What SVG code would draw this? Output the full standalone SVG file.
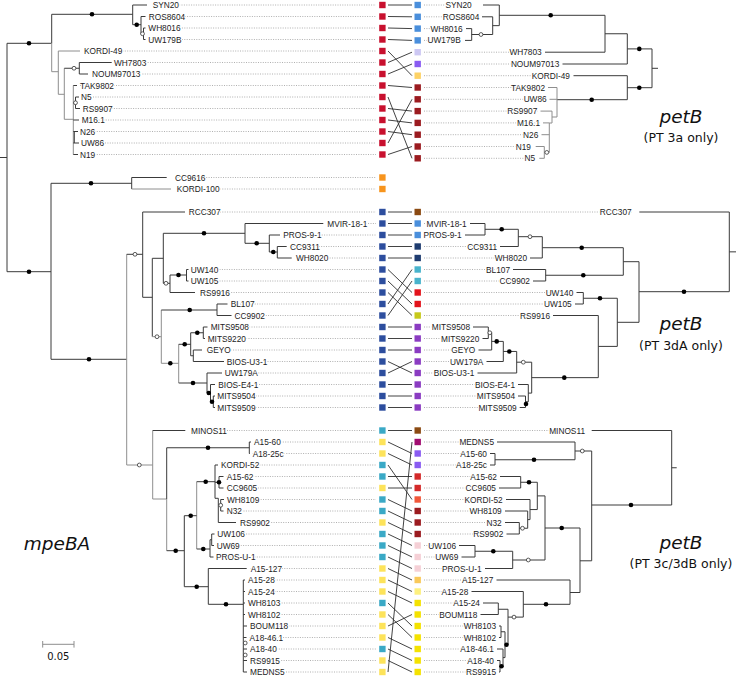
<svg xmlns="http://www.w3.org/2000/svg" width="736" height="679" viewBox="0 0 736 679">
<style>
.t{font-family:"Liberation Sans",Arial,sans-serif;font-size:8.3px;fill:#222;paint-order:stroke;stroke:#fff;stroke-width:2.4px;stroke-linejoin:round}
.r{text-anchor:end}
.br{fill:none;stroke:#3a3a3a;stroke-width:1}
.bg{fill:none;stroke:#8e8e8e;stroke-width:1}
.dl{stroke:#9c9c9c;stroke-width:0.8;stroke-dasharray:1 1.4}
.cn{stroke:#2e2e2e;stroke-width:0.9;fill:none}
.fd{fill:#000}
.od{fill:#fff;stroke:#333;stroke-width:0.8}
.big{font-family:"DejaVu Sans",Verdana,sans-serif;font-style:italic;font-size:18.5px;fill:#111;text-anchor:middle}
.sub{font-family:"DejaVu Sans",Verdana,sans-serif;font-size:12.5px;fill:#111;text-anchor:middle}
.c1{fill:#c8102e}.c2{fill:#f7941d}.c3{fill:#2d4e9e}.c4{fill:#3aa9c6}.c5{fill:#fde35a}
.c6{fill:#4a8fdc}.c7{fill:#cdc8f3}.c8{fill:#8a5cf2}.c9{fill:#fdd265}.c10{fill:#9b1b20}
.c11{fill:#8b4a12}.c12{fill:#1f3c70}.c13{fill:#48b3cc}.c14{fill:#e3141c}.c15{fill:#c7c91b}
.c16{fill:#8b3cc2}.c17{fill:#a10d70}.c18{fill:#d42b2b}.c19{fill:#f1573a}.c20{fill:#f5d0d6}
.c21{fill:#f9c95a}.c22{fill:#fdf07e}.c23{fill:#f4e200}
</style>

<g id="tree-mpeBA">
<path class="br" d="M0,157.5H7 M7,43.3V271.7 M7,43.3H51.7 M51.7,14.3V43.3 M51.7,14.3H132.7 M132.7,5V24.7 M132.7,5H147 M132.7,24.7H141 M141,16.5V33.75 M141,16.5H145.5 M141,33.75H143.5 M143.5,28V39.5 M143.5,28H145.5 M143.5,39.5H145.5"/>
<path class="bg" d="M51.7,43.3V71.7 M51.7,71.7H58.3 M58.3,51V94.3 M58.3,51H80 M58.3,94.3H64.3 M64.3,68.25V119.3 M64.3,119.3H73.3 M73.3,85.5V154.5"/>
<path class="br" d="M64.3,68.25H79.3 M79.3,62.5V74 M79.3,62.5H111.7 M79.3,74H88 M73.3,85.5H77 M73.3,102.75H75.5 M75.5,97V108.5 M75.5,97H79 M75.5,108.5H80 M73.3,120H79 M73.3,131.5H78 M73.3,143H79 M73.3,154.5H78 M74.3,131.5V143"/>
<path class="br" d="M7,271.7H51 M51,183.3V359.3 M51,183.3H131.7 M131.7,177.5V189 M131.7,177.5H166.7 M51,359.3H126.7"/>
<path class="bg" d="M131.7,189H171 M126.7,254.3V465"/>
<path class="br" d="M126.7,254.3H142.7 M142.7,212V297.3 M142.7,212H185 M142.7,297.3H152.3 M152.3,258.3V336.7 M152.3,258.3H163.3 M163.3,233.3V283.3 M163.3,233.3H245 M245,223.5V243.3 M245,223.5H323.3 M245,243.3H269.3 M269.3,235V252 M269.3,235H280 M269.3,252H277.3 M277.3,246.5V258 M277.3,246.5H286.7 M277.3,258H291.7 M163.3,283.3H170 M170,275V292.5 M170,275H186.5 M186.5,269.5V281 M186.5,269.5H188.5 M186.5,281H188.5 M170,292.5H195"/>
<path class="bg" d="M152.3,336.7H161.3 M161.3,310V363.3 M161.3,363.3H178.7 M178.7,344.3V383"/>
<path class="br" d="M161.3,310H217 M217,304V315.5 M217,304H227.5 M217,315.5H231.5 M178.7,344.3H190.7 M190.7,332.75V355.75 M190.7,332.75H203.3 M203.3,327V338.5 M203.3,327H207.5 M203.3,338.5H205 M190.7,355.75H193.3 M193.3,350V361.5 M193.3,350H202 M193.3,361.5H224 M178.7,383H207 M207,373V393 M207,373H222 M207,393H210.5 M210.5,384.5V401.75 M210.5,384.5H215 M210.5,401.75H213.3 M213.3,396V407.5 M213.3,396H215 M213.3,407.5H215"/>
<path class="bg" d="M126.7,465H152.7 M152.7,430.5V499 M152.7,499H166.7 M166.7,499V550.7 M196.7,481.7V549"/>
<path class="br" d="M152.7,430.5H185.3 M166.7,447.75V499 M166.7,447.75H249.3 M249.3,442V453.5 M249.3,442H251 M249.3,453.5H250 M166.7,550.7H184.3 M184.3,515.7V586.7 M184.3,515.7H196.7 M196.7,481.7H215 M215,465V498.3 M215,465H218 M215,482.25H219 M219,476.5V488 M219,476.5H223.5 M219,488H223.5 M215,498.3H218.3 M218.3,498.3V522.5 M218.3,505.25H220.7 M220.7,499.5V511 M220.7,499.5H224 M220.7,511H223.5 M218.3,522.5H236 M196.7,549H210 M210,539.75V557 M210,539.75H211.7 M211.7,534V545.5 M211.7,534H214.5 M211.7,545.5H214 M210,557H213.5 M184.3,586.7H208.3 M208.3,568.5V604.3 M208.3,568.5H246.7 M208.3,604.3H243.3 M243.3,580V672 M243.3,580H245 M243.3,591.5H245 M243.3,603H245 M243.3,614.5H245 M243.3,626H247 M243.3,637.5H246.5 M243.3,649H247 M243.3,660.5H247 M243.3,672H247"/>
<g class="fd">
<circle cx="29" cy="43.3" r="2.3"/><circle cx="92" cy="14.3" r="2.3"/><circle cx="136.7" cy="24.7" r="2.3"/>
<circle cx="29" cy="271.7" r="2.3"/><circle cx="91" cy="183.3" r="2.3"/><circle cx="89" cy="359.3" r="2.3"/>
<circle cx="204" cy="233.3" r="2.3"/><circle cx="256.7" cy="243.3" r="2.3"/><circle cx="273.3" cy="252" r="2.3"/>
<circle cx="178.5" cy="275" r="2.3"/><circle cx="189.7" cy="310" r="2.3"/><circle cx="170.3" cy="363.3" r="2.3"/>
<circle cx="184.7" cy="344.3" r="2.3"/><circle cx="197.3" cy="332.75" r="2.3"/><circle cx="193" cy="383" r="2.3"/>
<circle cx="208.8" cy="393" r="2.3"/><circle cx="212" cy="401.75" r="2.3"/><circle cx="208" cy="447.75" r="2.3"/>
<circle cx="175.7" cy="550.7" r="2.3"/><circle cx="190.7" cy="515.7" r="2.3"/><circle cx="205.7" cy="481.7" r="2.3"/>
<circle cx="219" cy="482.25" r="2.3"/><circle cx="203.3" cy="549" r="2.3"/><circle cx="196.7" cy="586.7" r="2.3"/>
<circle cx="226" cy="604.3" r="2.3"/>
</g>
<g class="od">
<circle cx="74" cy="68.25" r="1.9"/><circle cx="75.5" cy="102.75" r="1.9"/><circle cx="142.5" cy="33.75" r="1.9"/>
<circle cx="135" cy="254.3" r="1.9"/><circle cx="166" cy="283.3" r="1.9"/><circle cx="157" cy="336.7" r="1.9"/>
<circle cx="139.3" cy="465" r="1.9"/><circle cx="220.7" cy="505.25" r="1.9"/><circle cx="245.2" cy="643" r="1.9"/>
<circle cx="245.2" cy="655" r="1.9"/>
</g>
</g>

<g id="tree-petB">
<path class="br" d="M483,5H499.3 M482,16.8H492.7 M466,28.6H471.7 M465,40.4H471.7 M471.7,28.6V40.4 M471.7,34.5H492.7 M492.7,16.8V34.5 M492.7,25.65H499.3 M499.3,5V25.65 M499.3,15.3H605 M605,15.3V52.2 M545,52.2H605 M605,33.75H627.3 M627.3,33.75V64 M562.5,64H627.3 M627.3,48.9H652 M652,48.9V87.7 M652,68.3H658 M627.3,87.7H652 M627.3,75.7V99.7 M573.5,75.7H627.3 M557,99.7H627.3"/>
<path class="bg" d="M557,87.5V117 M548,87.5H557 M549.5,99.3H557 M552,117H557 M552,111.1V123 M540.5,111.1H552 M549.3,123H552 M549.3,122.9V152.4 M543,122.9H549.3 M541.5,134.7H549.3 M544.3,152.4H549.3 M544.3,146.5V158.3 M535.7,146.5H544.3 M539.3,158.3H544.3"/>
<path class="br" d="M639.3,212H729.3 M729.3,212V291.7 M729.3,251.85H736 M639,291.7H729.3 M639,261.7V322.3 M623.3,261.7H639 M623.3,247.7V275.25 M542.3,247.7H623.3 M542.3,236.7V258 M530,258H542.3 M518.3,236.7H542.3 M518.3,229.3V246.5 M500,246.5H518.3 M485,229.3H518.3 M485,223.5V235 M470,223.5H485 M465,235H485 M545.7,275.25H623.3 M545.7,269.5V281 M513,269.5H545.7 M533,281H545.7 M583.3,298.25H617.3 M583.3,292.5V304 M576.5,292.5H583.3 M575,304H583.3 M617.3,298.25V346.4 M617.3,322.3H639 M598.3,346.4H617.3 M598.3,315.5V377.65 M553,315.5H598.3 M531.7,377.65H598.3 M531.7,362.2V393.1 M516.7,362.2H531.7 M516.7,351.45V373 M477.5,373H516.7 M503.3,351.45H516.7 M503.3,341.4V361.5 M486.5,361.5H503.3 M491.7,341.4H503.3 M491.7,332.75V350 M478.5,350H491.7 M488.3,332.75H491.7 M488.3,327V338.5 M473,327H488.3 M482.5,338.5H488.3 M528.3,393.1H531.7 M528.3,384.5V401.75 M518,384.5H528.3 M525.5,401.75H528.3 M525.5,396V407.5 M518,396H525.5 M519.7,407.5H525.5"/>
<path class="br" d="M591.7,430.5H671.7 M671.7,430.5V505 M671.7,467.75H676.7 M591.7,505H671.7 M591.7,451V560.8 M575,451H591.7 M575,442V459.75 M497,442H575 M495,459.75H575 M495,453.5V465 M490,453.5H495 M490,465H495 M520.7,476.5V488 M500,476.5H520.7 M499,488H520.7 M520.7,482.25H537.3 M537.3,482.25V509.55 M530,509.55H537.3 M530,499.5V519.6 M506,499.5H530 M527.7,519.6H530 M527.7,511V528.25 M505,511H527.7 M519.3,528.25H527.7 M519.3,522.5V534 M505,522.5H519.3 M506.5,534H519.3 M537.3,495.9H545 M545,495.9V560 M545,528H580 M512.7,560H545 M512.7,551.25V568.5 M485,568.5H512.7 M475,551.25H512.7 M475,545.5V557 M459,545.5H475 M461.5,557H475 M580,528V592.5 M580,560.8H591.7 M570,592.5H580 M570,580V604.3 M496.5,580H570 M523.3,604.3H570 M523.3,591.5V617.1 M471.5,591.5H523.3 M508,617.1H523.3 M508,609.25V644.7 M498.3,609.25H508 M498.3,603V614.5 M483,603H498.3 M480.5,614.5H498.3 M505,644.7H508 M505,631.75V657.6 M501,631.75H505 M501,626V637.5 M499,626H501 M499,637.5H501 M503,657.6H505 M503,649V666.25 M497,649H503 M500,666.25H503 M500,660.5V672 M497,660.5H500 M499,672H500"/>
<g class="fd">
<circle cx="550.7" cy="15.3" r="2.3"/><circle cx="639.3" cy="48.9" r="2.3"/><circle cx="639.3" cy="87.7" r="2.3"/><circle cx="591.7" cy="99.7" r="2.3"/>
<circle cx="684" cy="291.7" r="2.3"/><circle cx="581.7" cy="247.7" r="2.3"/><circle cx="501.7" cy="229.3" r="2.3"/><circle cx="583.3" cy="275.25" r="2.3"/>
<circle cx="600" cy="298.25" r="2.3"/><circle cx="564.3" cy="377.65" r="2.3"/><circle cx="496.7" cy="341.4" r="2.3"/><circle cx="509.3" cy="351.45" r="2.3"/>
<circle cx="526" cy="404" r="2.3"/>
<circle cx="631" cy="505" r="2.3"/><circle cx="534" cy="459.75" r="2.3"/><circle cx="529" cy="482.25" r="2.3"/><circle cx="561.7" cy="528" r="2.3"/>
<circle cx="493.3" cy="551.25" r="2.3"/><circle cx="546" cy="604.3" r="2.3"/><circle cx="506.5" cy="644.7" r="2.3"/><circle cx="501.5" cy="666.25" r="2.3"/>
</g>
<g class="od">
<circle cx="481" cy="34.5" r="1.9"/><circle cx="546.8" cy="152.4" r="1.9"/>
<circle cx="530" cy="236.7" r="1.9"/><circle cx="523.3" cy="362.2" r="1.9"/><circle cx="489.8" cy="332.75" r="1.9"/>
<circle cx="582.3" cy="451" r="1.9"/><circle cx="522.5" cy="528.25" r="1.9"/><circle cx="528.3" cy="560" r="1.9"/><circle cx="514" cy="617.1" r="1.9"/>
</g>
</g>

<g id="connectors" class="cn">
<path d="M388,5L412,5 M388,16.5L412,16.8 M388,28L412,28.6 M388,39.5L412,40.4 M388,51L412,75.7 M388,62.5L412,52.2 M388,74L412,64 M388,85.5L412,87.5 M388,97L412,158.3 M388,108.5L412,111.1 M388,120L412,122.9 M388,131.5L412,134.7 M388,143L412,99.3 M388,154.5L412,146.5"/>
<path d="M388,212H412 M388,223.5H412 M388,235H412 M388,246.5H412 M388,258H412 M388,269.5L412,292.5 M388,281L412,304 M388,292.5L412,315.5 M388,304L412,269.5 M388,315.5L412,281 M388,327H412 M388,338.5H412 M388,350H412 M388,361.5L412,373 M388,373L412,361.5 M388,384.5H412 M388,396H412 M388,407.5H412"/>
<path d="M388,430.5H412 M388,442L412,453.5 M388,453.5L412,465 M388,465L412,499.5 M388,476.5H412 M388,488H412 M388,499.5L412,511 M388,511L412,522.5 M388,522.5L412,534 M388,534L412,545.5 M388,545.5L412,557 M388,557L412,568.5 M388,568.5L412,580 M388,580L412,591.5 M388,591.5L412,603 M388,603L412,626 M388,614.5L412,637.5 M388,626L412,614.5 M388,637.5L412,649 M388,649L412,660.5 M388,660.5L412,672 M388,672L412,442"/>
</g>

<g id="left-leaves">
<g id="L-SYN20"><line class="dl" x1="152.7" y1="5" x2="376" y2="5"/><text class="t" x="152.7" y="8">SYN20</text><rect class="c1" x="379.2" y="1.8" width="6.4" height="6.4"/></g>
<g id="L-ROS8604"><line class="dl" x1="148.7" y1="16.5" x2="376" y2="16.5"/><text class="t" x="148.7" y="19.5">ROS8604</text><rect class="c1" x="379.2" y="13.3" width="6.4" height="6.4"/></g>
<g id="L-WH8016"><line class="dl" x1="148.3" y1="28" x2="376" y2="28"/><text class="t" x="148.3" y="31">WH8016</text><rect class="c1" x="379.2" y="24.8" width="6.4" height="6.4"/></g>
<g id="L-UW179B"><line class="dl" x1="148.3" y1="39.5" x2="376" y2="39.5"/><text class="t" x="148.3" y="42.5">UW179B</text><rect class="c1" x="379.2" y="36.3" width="6.4" height="6.4"/></g>
<g id="L-KORDI-49"><line class="dl" x1="84" y1="51" x2="376" y2="51"/><text class="t" x="84" y="54">KORDI-49</text><rect class="c1" x="379.2" y="47.8" width="6.4" height="6.4"/></g>
<g id="L-WH7803"><line class="dl" x1="114" y1="62.5" x2="376" y2="62.5"/><text class="t" x="114" y="65.5">WH7803</text><rect class="c1" x="379.2" y="59.3" width="6.4" height="6.4"/></g>
<g id="L-NOUM97013"><line class="dl" x1="92" y1="74" x2="376" y2="74"/><text class="t" x="92" y="77">NOUM97013</text><rect class="c1" x="379.2" y="70.8" width="6.4" height="6.4"/></g>
<g id="L-TAK9802"><line class="dl" x1="80" y1="85.5" x2="376" y2="85.5"/><text class="t" x="80" y="88.5">TAK9802</text><rect class="c1" x="379.2" y="82.3" width="6.4" height="6.4"/></g>
<g id="L-N5"><line class="dl" x1="81" y1="97" x2="376" y2="97"/><text class="t" x="81" y="100">N5</text><rect class="c1" x="379.2" y="93.8" width="6.4" height="6.4"/></g>
<g id="L-RS9907"><line class="dl" x1="82.7" y1="108.5" x2="376" y2="108.5"/><text class="t" x="82.7" y="111.5">RS9907</text><rect class="c1" x="379.2" y="105.3" width="6.4" height="6.4"/></g>
<g id="L-M16.1"><line class="dl" x1="81.7" y1="120" x2="376" y2="120"/><text class="t" x="81.7" y="123">M16.1</text><rect class="c1" x="379.2" y="116.8" width="6.4" height="6.4"/></g>
<g id="L-N26"><line class="dl" x1="80" y1="131.5" x2="376" y2="131.5"/><text class="t" x="80" y="134.5">N26</text><rect class="c1" x="379.2" y="128.3" width="6.4" height="6.4"/></g>
<g id="L-UW86"><line class="dl" x1="81" y1="143" x2="376" y2="143"/><text class="t" x="81" y="146">UW86</text><rect class="c1" x="379.2" y="139.8" width="6.4" height="6.4"/></g>
<g id="L-N19"><line class="dl" x1="80" y1="154.5" x2="376" y2="154.5"/><text class="t" x="80" y="157.5">N19</text><rect class="c1" x="379.2" y="151.3" width="6.4" height="6.4"/></g>
<g id="L-CC9616"><line class="dl" x1="175" y1="177.5" x2="376" y2="177.5"/><text class="t" x="175" y="180.5">CC9616</text><rect class="c2" x="379.2" y="174.3" width="6.4" height="6.4"/></g>
<g id="L-KORDI-100"><line class="dl" x1="176.7" y1="189" x2="376" y2="189"/><text class="t" x="176.7" y="192">KORDI-100</text><rect class="c2" x="379.2" y="185.8" width="6.4" height="6.4"/></g>
<g id="L-RCC307"><line class="dl" x1="188.7" y1="212" x2="376" y2="212"/><text class="t" x="188.7" y="215">RCC307</text><rect class="c3" x="379.2" y="208.8" width="6.4" height="6.4"/></g>
<g id="L-MVIR-18-1"><line class="dl" x1="327.3" y1="223.5" x2="376" y2="223.5"/><text class="t" x="327.3" y="226.5">MVIR-18-1</text><rect class="c3" x="379.2" y="220.3" width="6.4" height="6.4"/></g>
<g id="L-PROS-9-1"><line class="dl" x1="283.3" y1="235" x2="376" y2="235"/><text class="t" x="283.3" y="238">PROS-9-1</text><rect class="c3" x="379.2" y="231.8" width="6.4" height="6.4"/></g>
<g id="L-CC9311"><line class="dl" x1="290" y1="246.5" x2="376" y2="246.5"/><text class="t" x="290" y="249.5">CC9311</text><rect class="c3" x="379.2" y="243.3" width="6.4" height="6.4"/></g>
<g id="L-WH8020"><line class="dl" x1="296" y1="258" x2="376" y2="258"/><text class="t" x="296" y="261">WH8020</text><rect class="c3" x="379.2" y="254.8" width="6.4" height="6.4"/></g>
<g id="L-UW140"><line class="dl" x1="190.7" y1="269.5" x2="376" y2="269.5"/><text class="t" x="190.7" y="272.5">UW140</text><rect class="c3" x="379.2" y="266.3" width="6.4" height="6.4"/></g>
<g id="L-UW105"><line class="dl" x1="190.7" y1="281" x2="376" y2="281"/><text class="t" x="190.7" y="284">UW105</text><rect class="c3" x="379.2" y="277.8" width="6.4" height="6.4"/></g>
<g id="L-RS9916"><line class="dl" x1="200" y1="292.5" x2="376" y2="292.5"/><text class="t" x="200" y="295.5">RS9916</text><rect class="c3" x="379.2" y="289.3" width="6.4" height="6.4"/></g>
<g id="L-BL107"><line class="dl" x1="230.7" y1="304" x2="376" y2="304"/><text class="t" x="230.7" y="307">BL107</text><rect class="c3" x="379.2" y="300.8" width="6.4" height="6.4"/></g>
<g id="L-CC9902"><line class="dl" x1="234.5" y1="315.5" x2="376" y2="315.5"/><text class="t" x="234.5" y="318.5">CC9902</text><rect class="c3" x="379.2" y="312.3" width="6.4" height="6.4"/></g>
<g id="L-MITS9508"><line class="dl" x1="210.7" y1="327" x2="376" y2="327"/><text class="t" x="210.7" y="330">MITS9508</text><rect class="c3" x="379.2" y="323.8" width="6.4" height="6.4"/></g>
<g id="L-MITS9220"><line class="dl" x1="207.7" y1="338.5" x2="376" y2="338.5"/><text class="t" x="207.7" y="341.5">MITS9220</text><rect class="c3" x="379.2" y="335.3" width="6.4" height="6.4"/></g>
<g id="L-GEYO"><line class="dl" x1="206.7" y1="350" x2="376" y2="350"/><text class="t" x="206.7" y="353">GEYO</text><rect class="c3" x="379.2" y="346.8" width="6.4" height="6.4"/></g>
<g id="L-BIOS-U3-1"><line class="dl" x1="226.7" y1="361.5" x2="376" y2="361.5"/><text class="t" x="226.7" y="364.5">BIOS-U3-1</text><rect class="c3" x="379.2" y="358.3" width="6.4" height="6.4"/></g>
<g id="L-UW179A"><line class="dl" x1="224.7" y1="373" x2="376" y2="373"/><text class="t" x="224.7" y="376">UW179A</text><rect class="c3" x="379.2" y="369.8" width="6.4" height="6.4"/></g>
<g id="L-BIOS-E4-1"><line class="dl" x1="218.3" y1="384.5" x2="376" y2="384.5"/><text class="t" x="218.3" y="387.5">BIOS-E4-1</text><rect class="c3" x="379.2" y="381.3" width="6.4" height="6.4"/></g>
<g id="L-MITS9504"><line class="dl" x1="217.3" y1="396" x2="376" y2="396"/><text class="t" x="217.3" y="399">MITS9504</text><rect class="c3" x="379.2" y="392.8" width="6.4" height="6.4"/></g>
<g id="L-MITS9509"><line class="dl" x1="217.3" y1="407.5" x2="376" y2="407.5"/><text class="t" x="217.3" y="410.5">MITS9509</text><rect class="c3" x="379.2" y="404.3" width="6.4" height="6.4"/></g>
<g id="L-MINOS11"><line class="dl" x1="191" y1="430.5" x2="376" y2="430.5"/><text class="t" x="191" y="433.5">MINOS11</text><rect class="c4" x="379.2" y="427.3" width="6.4" height="6.4"/></g>
<g id="L-A15-60"><line class="dl" x1="254" y1="442" x2="376" y2="442"/><text class="t" x="254" y="445">A15-60</text><rect class="c5" x="379.2" y="438.8" width="6.4" height="6.4"/></g>
<g id="L-A18-25c"><line class="dl" x1="252.7" y1="453.5" x2="376" y2="453.5"/><text class="t" x="252.7" y="456.5">A18-25c</text><rect class="c5" x="379.2" y="450.3" width="6.4" height="6.4"/></g>
<g id="L-KORDI-52"><line class="dl" x1="221" y1="465" x2="376" y2="465"/><text class="t" x="221" y="468">KORDI-52</text><rect class="c4" x="379.2" y="461.8" width="6.4" height="6.4"/></g>
<g id="L-A15-62"><line class="dl" x1="226.7" y1="476.5" x2="376" y2="476.5"/><text class="t" x="226.7" y="479.5">A15-62</text><rect class="c4" x="379.2" y="473.3" width="6.4" height="6.4"/></g>
<g id="L-CC9605"><line class="dl" x1="226.7" y1="488" x2="376" y2="488"/><text class="t" x="226.7" y="491">CC9605</text><rect class="c5" x="379.2" y="484.8" width="6.4" height="6.4"/></g>
<g id="L-WH8109"><line class="dl" x1="227" y1="499.5" x2="376" y2="499.5"/><text class="t" x="227" y="502.5">WH8109</text><rect class="c4" x="379.2" y="496.3" width="6.4" height="6.4"/></g>
<g id="L-N32"><line class="dl" x1="226.7" y1="511" x2="376" y2="511"/><text class="t" x="226.7" y="514">N32</text><rect class="c4" x="379.2" y="507.8" width="6.4" height="6.4"/></g>
<g id="L-RS9902"><line class="dl" x1="240" y1="522.5" x2="376" y2="522.5"/><text class="t" x="240" y="525.5">RS9902</text><rect class="c5" x="379.2" y="519.3" width="6.4" height="6.4"/></g>
<g id="L-UW106"><line class="dl" x1="217.3" y1="534" x2="376" y2="534"/><text class="t" x="217.3" y="537">UW106</text><rect class="c4" x="379.2" y="530.8" width="6.4" height="6.4"/></g>
<g id="L-UW69"><line class="dl" x1="216.7" y1="545.5" x2="376" y2="545.5"/><text class="t" x="216.7" y="548.5">UW69</text><rect class="c4" x="379.2" y="542.3" width="6.4" height="6.4"/></g>
<g id="L-PROS-U-1"><line class="dl" x1="216" y1="557" x2="376" y2="557"/><text class="t" x="216" y="560">PROS-U-1</text><rect class="c4" x="379.2" y="553.8" width="6.4" height="6.4"/></g>
<g id="L-A15-127"><line class="dl" x1="250.7" y1="568.5" x2="376" y2="568.5"/><text class="t" x="250.7" y="571.5">A15-127</text><rect class="c5" x="379.2" y="565.3" width="6.4" height="6.4"/></g>
<g id="L-A15-28"><line class="dl" x1="248" y1="580" x2="376" y2="580"/><text class="t" x="248" y="583">A15-28</text><rect class="c5" x="379.2" y="576.8" width="6.4" height="6.4"/></g>
<g id="L-A15-24"><line class="dl" x1="248" y1="591.5" x2="376" y2="591.5"/><text class="t" x="248" y="594.5">A15-24</text><rect class="c5" x="379.2" y="588.3" width="6.4" height="6.4"/></g>
<g id="L-WH8103"><line class="dl" x1="248" y1="603" x2="376" y2="603"/><text class="t" x="248" y="606">WH8103</text><rect class="c4" x="379.2" y="599.8" width="6.4" height="6.4"/></g>
<g id="L-WH8102"><line class="dl" x1="248" y1="614.5" x2="376" y2="614.5"/><text class="t" x="248" y="617.5">WH8102</text><rect class="c5" x="379.2" y="611.3" width="6.4" height="6.4"/></g>
<g id="L-BOUM118"><line class="dl" x1="250" y1="626" x2="376" y2="626"/><text class="t" x="250" y="629">BOUM118</text><rect class="c5" x="379.2" y="622.8" width="6.4" height="6.4"/></g>
<g id="L-A18-46.1"><line class="dl" x1="249.5" y1="637.5" x2="376" y2="637.5"/><text class="t" x="249.5" y="640.5">A18-46.1</text><rect class="c5" x="379.2" y="634.3" width="6.4" height="6.4"/></g>
<g id="L-A18-40"><line class="dl" x1="250" y1="649" x2="376" y2="649"/><text class="t" x="250" y="652">A18-40</text><rect class="c4" x="379.2" y="645.8" width="6.4" height="6.4"/></g>
<g id="L-RS9915"><line class="dl" x1="250" y1="660.5" x2="376" y2="660.5"/><text class="t" x="250" y="663.5">RS9915</text><rect class="c5" x="379.2" y="657.3" width="6.4" height="6.4"/></g>
<g id="L-MEDNS5"><line class="dl" x1="250" y1="672" x2="376" y2="672"/><text class="t" x="250" y="675">MEDNS5</text><rect class="c5" x="379.2" y="668.8" width="6.4" height="6.4"/></g>
</g>

<g id="right-leaves">
<g id="R-SYN20"><line class="dl" x1="424" y1="5" x2="471.7" y2="5"/><text class="t r" x="471.7" y="8">SYN20</text><rect class="c6" x="414.5" y="1.8" width="6.4" height="6.4"/></g>
<g id="R-ROS8604"><line class="dl" x1="424" y1="16.8" x2="479.3" y2="16.8"/><text class="t r" x="479.3" y="19.8">ROS8604</text><rect class="c6" x="414.5" y="13.6" width="6.4" height="6.4"/></g>
<g id="R-WH8016"><line class="dl" x1="424" y1="28.6" x2="462.7" y2="28.6"/><text class="t r" x="462.7" y="31.6">WH8016</text><rect class="c6" x="414.5" y="25.4" width="6.4" height="6.4"/></g>
<g id="R-UW179B"><line class="dl" x1="424" y1="40.4" x2="460.7" y2="40.4"/><text class="t r" x="460.7" y="43.4">UW179B</text><rect class="c6" x="414.5" y="37.2" width="6.4" height="6.4"/></g>
<g id="R-WH7803"><line class="dl" x1="424" y1="52.2" x2="541.7" y2="52.2"/><text class="t r" x="541.7" y="55.2">WH7803</text><rect class="c7" x="414.5" y="49" width="6.4" height="6.4"/></g>
<g id="R-NOUM97013"><line class="dl" x1="424" y1="64" x2="559.3" y2="64"/><text class="t r" x="559.3" y="67">NOUM97013</text><rect class="c8" x="414.5" y="60.8" width="6.4" height="6.4"/></g>
<g id="R-KORDI-49"><line class="dl" x1="424" y1="75.7" x2="570" y2="75.7"/><text class="t r" x="570" y="78.7">KORDI-49</text><rect class="c9" x="414.5" y="72.5" width="6.4" height="6.4"/></g>
<g id="R-TAK9802"><line class="dl" x1="424" y1="87.5" x2="545" y2="87.5"/><text class="t r" x="545" y="90.5">TAK9802</text><rect class="c10" x="414.5" y="84.3" width="6.4" height="6.4"/></g>
<g id="R-UW86"><line class="dl" x1="424" y1="99.3" x2="546.7" y2="99.3"/><text class="t r" x="546.7" y="102.3">UW86</text><rect class="c10" x="414.5" y="96.1" width="6.4" height="6.4"/></g>
<g id="R-RS9907"><line class="dl" x1="424" y1="111.1" x2="537.3" y2="111.1"/><text class="t r" x="537.3" y="114.1">RS9907</text><rect class="c10" x="414.5" y="107.9" width="6.4" height="6.4"/></g>
<g id="R-M16.1"><line class="dl" x1="424" y1="122.9" x2="540" y2="122.9"/><text class="t r" x="540" y="125.9">M16.1</text><rect class="c10" x="414.5" y="119.7" width="6.4" height="6.4"/></g>
<g id="R-N26"><line class="dl" x1="424" y1="134.7" x2="538.3" y2="134.7"/><text class="t r" x="538.3" y="137.7">N26</text><rect class="c10" x="414.5" y="131.5" width="6.4" height="6.4"/></g>
<g id="R-N19"><line class="dl" x1="424" y1="146.5" x2="531" y2="146.5"/><text class="t r" x="531" y="149.5">N19</text><rect class="c10" x="414.5" y="143.3" width="6.4" height="6.4"/></g>
<g id="R-N5"><line class="dl" x1="424" y1="158.3" x2="535" y2="158.3"/><text class="t r" x="535" y="161.3">N5</text><rect class="c10" x="414.5" y="155.1" width="6.4" height="6.4"/></g>
<g id="R-RCC307"><line class="dl" x1="424" y1="212" x2="631.7" y2="212"/><text class="t r" x="631.7" y="215">RCC307</text><rect class="c11" x="414.5" y="208.8" width="6.4" height="6.4"/></g>
<g id="R-MVIR-18-1"><line class="dl" x1="424" y1="223.5" x2="466.7" y2="223.5"/><text class="t r" x="466.7" y="226.5">MVIR-18-1</text><rect class="c6" x="414.5" y="220.3" width="6.4" height="6.4"/></g>
<g id="R-PROS-9-1"><line class="dl" x1="424" y1="235" x2="461.7" y2="235"/><text class="t r" x="461.7" y="238">PROS-9-1</text><rect class="c6" x="414.5" y="231.8" width="6.4" height="6.4"/></g>
<g id="R-CC9311"><line class="dl" x1="424" y1="246.5" x2="497" y2="246.5"/><text class="t r" x="497" y="249.5">CC9311</text><rect class="c12" x="414.5" y="243.3" width="6.4" height="6.4"/></g>
<g id="R-WH8020"><line class="dl" x1="424" y1="258" x2="527" y2="258"/><text class="t r" x="527" y="261">WH8020</text><rect class="c12" x="414.5" y="254.8" width="6.4" height="6.4"/></g>
<g id="R-BL107"><line class="dl" x1="424" y1="269.5" x2="510" y2="269.5"/><text class="t r" x="510" y="272.5">BL107</text><rect class="c13" x="414.5" y="266.3" width="6.4" height="6.4"/></g>
<g id="R-CC9902"><line class="dl" x1="424" y1="281" x2="530" y2="281"/><text class="t r" x="530" y="284">CC9902</text><rect class="c13" x="414.5" y="277.8" width="6.4" height="6.4"/></g>
<g id="R-UW140"><line class="dl" x1="424" y1="292.5" x2="573.3" y2="292.5"/><text class="t r" x="573.3" y="295.5">UW140</text><rect class="c14" x="414.5" y="289.3" width="6.4" height="6.4"/></g>
<g id="R-UW105"><line class="dl" x1="424" y1="304" x2="571.7" y2="304"/><text class="t r" x="571.7" y="307">UW105</text><rect class="c14" x="414.5" y="300.8" width="6.4" height="6.4"/></g>
<g id="R-RS9916"><line class="dl" x1="424" y1="315.5" x2="550" y2="315.5"/><text class="t r" x="550" y="318.5">RS9916</text><rect class="c15" x="414.5" y="312.3" width="6.4" height="6.4"/></g>
<g id="R-MITS9508"><line class="dl" x1="424" y1="327" x2="470" y2="327"/><text class="t r" x="470" y="330">MITS9508</text><rect class="c16" x="414.5" y="323.8" width="6.4" height="6.4"/></g>
<g id="R-MITS9220"><line class="dl" x1="424" y1="338.5" x2="479.3" y2="338.5"/><text class="t r" x="479.3" y="341.5">MITS9220</text><rect class="c16" x="414.5" y="335.3" width="6.4" height="6.4"/></g>
<g id="R-GEYO"><line class="dl" x1="424" y1="350" x2="475.3" y2="350"/><text class="t r" x="475.3" y="353">GEYO</text><rect class="c16" x="414.5" y="346.8" width="6.4" height="6.4"/></g>
<g id="R-UW179A"><line class="dl" x1="424" y1="361.5" x2="483.3" y2="361.5"/><text class="t r" x="483.3" y="364.5">UW179A</text><rect class="c16" x="414.5" y="358.3" width="6.4" height="6.4"/></g>
<g id="R-BIOS-U3-1"><line class="dl" x1="424" y1="373" x2="474.3" y2="373"/><text class="t r" x="474.3" y="376">BIOS-U3-1</text><rect class="c16" x="414.5" y="369.8" width="6.4" height="6.4"/></g>
<g id="R-BIOS-E4-1"><line class="dl" x1="424" y1="384.5" x2="515" y2="384.5"/><text class="t r" x="515" y="387.5">BIOS-E4-1</text><rect class="c16" x="414.5" y="381.3" width="6.4" height="6.4"/></g>
<g id="R-MITS9504"><line class="dl" x1="424" y1="396" x2="515" y2="396"/><text class="t r" x="515" y="399">MITS9504</text><rect class="c16" x="414.5" y="392.8" width="6.4" height="6.4"/></g>
<g id="R-MITS9509"><line class="dl" x1="424" y1="407.5" x2="516.7" y2="407.5"/><text class="t r" x="516.7" y="410.5">MITS9509</text><rect class="c16" x="414.5" y="404.3" width="6.4" height="6.4"/></g>
<g id="R-MINOS11"><line class="dl" x1="424" y1="430.5" x2="585" y2="430.5"/><text class="t r" x="585" y="433.5">MINOS11</text><rect class="c11" x="414.5" y="427.3" width="6.4" height="6.4"/></g>
<g id="R-MEDNS5"><line class="dl" x1="424" y1="442" x2="494" y2="442"/><text class="t r" x="494" y="445">MEDNS5</text><rect class="c17" x="414.5" y="438.8" width="6.4" height="6.4"/></g>
<g id="R-A15-60"><line class="dl" x1="424" y1="453.5" x2="487" y2="453.5"/><text class="t r" x="487" y="456.5">A15-60</text><rect class="c8" x="414.5" y="450.3" width="6.4" height="6.4"/></g>
<g id="R-A18-25c"><line class="dl" x1="424" y1="465" x2="487" y2="465"/><text class="t r" x="487" y="468">A18-25c</text><rect class="c8" x="414.5" y="461.8" width="6.4" height="6.4"/></g>
<g id="R-A15-62"><line class="dl" x1="424" y1="476.5" x2="497" y2="476.5"/><text class="t r" x="497" y="479.5">A15-62</text><rect class="c18" x="414.5" y="473.3" width="6.4" height="6.4"/></g>
<g id="R-CC9605"><line class="dl" x1="424" y1="488" x2="496" y2="488"/><text class="t r" x="496" y="491">CC9605</text><rect class="c18" x="414.5" y="484.8" width="6.4" height="6.4"/></g>
<g id="R-KORDI-52"><line class="dl" x1="424" y1="499.5" x2="502.7" y2="499.5"/><text class="t r" x="502.7" y="502.5">KORDI-52</text><rect class="c19" x="414.5" y="496.3" width="6.4" height="6.4"/></g>
<g id="R-WH8109"><line class="dl" x1="424" y1="511" x2="501.7" y2="511"/><text class="t r" x="501.7" y="514">WH8109</text><rect class="c10" x="414.5" y="507.8" width="6.4" height="6.4"/></g>
<g id="R-N32"><line class="dl" x1="424" y1="522.5" x2="501.7" y2="522.5"/><text class="t r" x="501.7" y="525.5">N32</text><rect class="c10" x="414.5" y="519.3" width="6.4" height="6.4"/></g>
<g id="R-RS9902"><line class="dl" x1="424" y1="534" x2="503.3" y2="534"/><text class="t r" x="503.3" y="537">RS9902</text><rect class="c10" x="414.5" y="530.8" width="6.4" height="6.4"/></g>
<g id="R-UW106"><line class="dl" x1="424" y1="545.5" x2="456" y2="545.5"/><text class="t r" x="456" y="548.5">UW106</text><rect class="c20" x="414.5" y="542.3" width="6.4" height="6.4"/></g>
<g id="R-UW69"><line class="dl" x1="424" y1="557" x2="458.3" y2="557"/><text class="t r" x="458.3" y="560">UW69</text><rect class="c20" x="414.5" y="553.8" width="6.4" height="6.4"/></g>
<g id="R-PROS-U-1"><line class="dl" x1="424" y1="568.5" x2="481.7" y2="568.5"/><text class="t r" x="481.7" y="571.5">PROS-U-1</text><rect class="c20" x="414.5" y="565.3" width="6.4" height="6.4"/></g>
<g id="R-A15-127"><line class="dl" x1="424" y1="580" x2="493.3" y2="580"/><text class="t r" x="493.3" y="583">A15-127</text><rect class="c21" x="414.5" y="576.8" width="6.4" height="6.4"/></g>
<g id="R-A15-28"><line class="dl" x1="424" y1="591.5" x2="468.3" y2="591.5"/><text class="t r" x="468.3" y="594.5">A15-28</text><rect class="c22" x="414.5" y="588.3" width="6.4" height="6.4"/></g>
<g id="R-A15-24"><line class="dl" x1="424" y1="603" x2="480" y2="603"/><text class="t r" x="480" y="606">A15-24</text><rect class="c23" x="414.5" y="599.8" width="6.4" height="6.4"/></g>
<g id="R-BOUM118"><line class="dl" x1="424" y1="614.5" x2="477.3" y2="614.5"/><text class="t r" x="477.3" y="617.5">BOUM118</text><rect class="c23" x="414.5" y="611.3" width="6.4" height="6.4"/></g>
<g id="R-WH8103"><line class="dl" x1="424" y1="626" x2="496" y2="626"/><text class="t r" x="496" y="629">WH8103</text><rect class="c23" x="414.5" y="622.8" width="6.4" height="6.4"/></g>
<g id="R-WH8102"><line class="dl" x1="424" y1="637.5" x2="496" y2="637.5"/><text class="t r" x="496" y="640.5">WH8102</text><rect class="c23" x="414.5" y="634.3" width="6.4" height="6.4"/></g>
<g id="R-A18-46.1"><line class="dl" x1="424" y1="649" x2="494" y2="649"/><text class="t r" x="494" y="652">A18-46.1</text><rect class="c23" x="414.5" y="645.8" width="6.4" height="6.4"/></g>
<g id="R-A18-40"><line class="dl" x1="424" y1="660.5" x2="494" y2="660.5"/><text class="t r" x="494" y="663.5">A18-40</text><rect class="c23" x="414.5" y="657.3" width="6.4" height="6.4"/></g>
<g id="R-RS9915"><line class="dl" x1="424" y1="672" x2="496" y2="672"/><text class="t r" x="496" y="675">RS9915</text><rect class="c23" x="414.5" y="668.8" width="6.4" height="6.4"/></g>
</g>

<g id="titles">
<text class="big" x="57" y="550">mpeBA</text>
<text class="big" x="681" y="123">petB</text>
<text class="sub" x="681" y="142">(PT 3a only)</text>
<text class="big" x="681" y="330">petB</text>
<text class="sub" x="681" y="350">(PT 3dA only)</text>
<text class="big" x="681" y="549">petB</text>
<text class="sub" x="681" y="568">(PT 3c/3dB only)</text>
</g>

<g id="scale-bar">
<path class="bg" d="M42.7,644.3H74 M42.7,641V647.6 M74,641V647.6"/>
<text class="sub" x="58.3" y="659.5" style="font-size:10px">0.05</text>
</g>
</svg>
